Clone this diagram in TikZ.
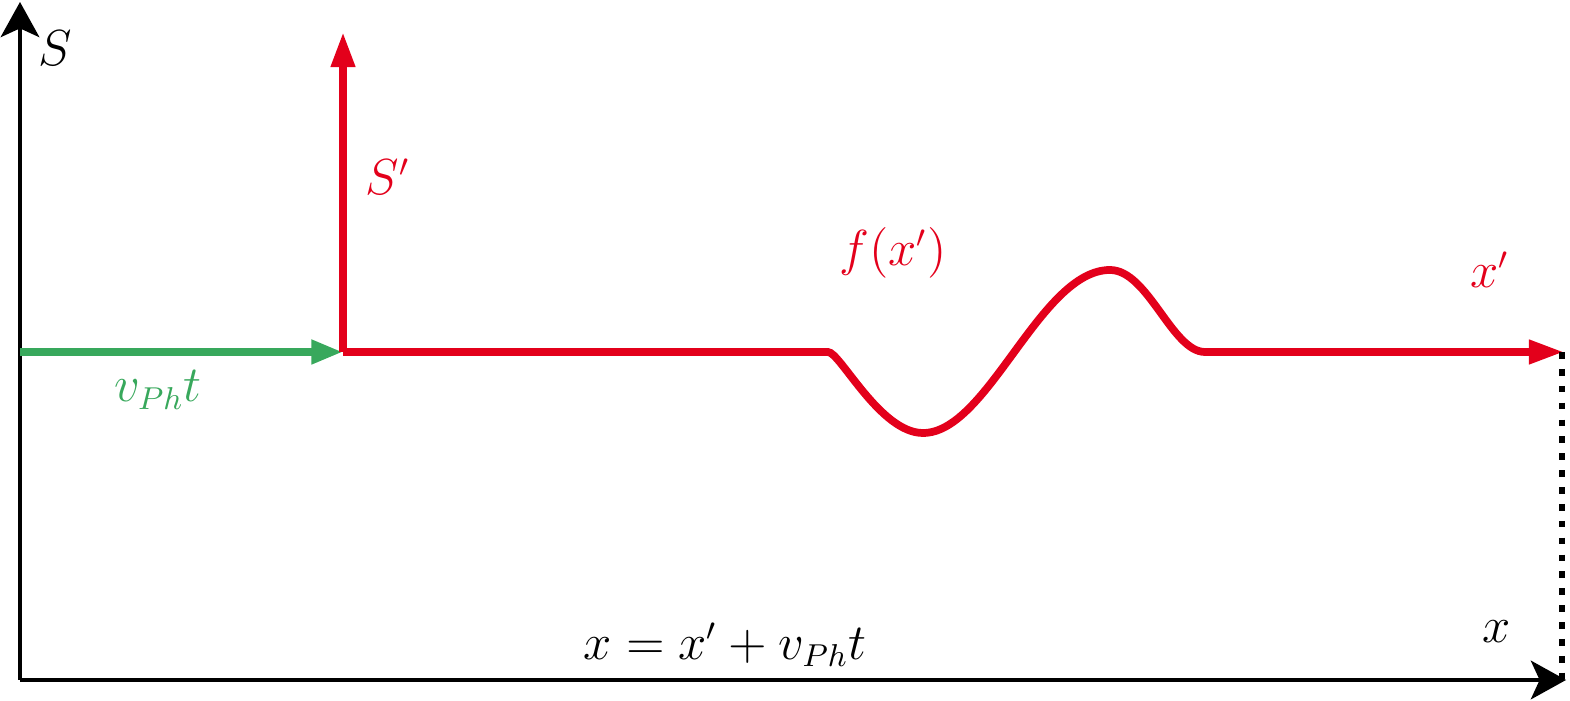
\documentclass[tikz,border=0pt]{standalone}
\usepackage{amsmath}
\usepackage{tikz}
\usetikzlibrary{arrows.meta,positioning}
\definecolor{wavered}{RGB}{227,0,27}
\definecolor{shiftgreen}{RGB}{56,168,92}

\begin{document}
\begin{tikzpicture}[
    x=0.01cm,y=-0.01cm,
    lab/.style={font=\fontsize{13.5}{16}\selectfont},
    axis/.style={line width=1.05pt,-{Stealth[length=10pt,width=11pt,inset=2.5pt]}},
    moving/.style={wavered,line width=2.2pt,-{Triangle[length=10pt,width=6.5pt]}},
    offset/.style={shiftgreen,line width=2.2pt,-{Triangle[length=9pt,width=6.5pt]}}]
  \useasboundingbox (0,0) rectangle (1570,701);
  % rest frame S
  \coordinate (O) at (20,680);
  \coordinate (Stop) at (20,2);
  \coordinate (xend) at (1566,680);
  % moving frame S'
  \coordinate (Op) at (343,352);
  \coordinate (Sptop) at (343,32);
  \coordinate (xpend) at (1564,352);
  \coordinate (offsetstart) at (20,352);
  \coordinate (foot) at (1562,352);
  \coordinate (footend) at (1562,680);
  \draw[axis] (O) -- (Stop);
  \draw[axis] (O) -- (xend);
  \draw[offset] (offsetstart) -- (Op);
  \draw[moving] (Op) -- (828,352)
    .. controls (840,352) and (880,433) .. (923,433)
    .. controls (988,433) and (1040,270) .. (1110,270)
    .. controls (1148,270) and (1172,352) .. (1205,352) -- (xpend);
  \draw[moving] (Op) -- (Sptop);
  \draw[line width=1.9pt,dash pattern=on 1.9pt off 2.9pt] (foot) -- (footend);
  % labels
  \node[lab] (Slab) at (55,48) {$S$};
  \node[lab,wavered] (Splab) at (388,177) {$S'$};
  \node[lab,wavered] (flab) at (893,253) {$f(x')$};
  \node[lab,wavered] (xplab) at (1490,270) {$x'$};
  \node[lab,shiftgreen] (vlab) at (158,390) {$v_{Ph}t$};
  \node[lab] (xlab) at (1497,632) {$x$};
  \node[lab] (rel) at (725,645) {$x = x' + v_{Ph}t$};
\end{tikzpicture}
\end{document}
